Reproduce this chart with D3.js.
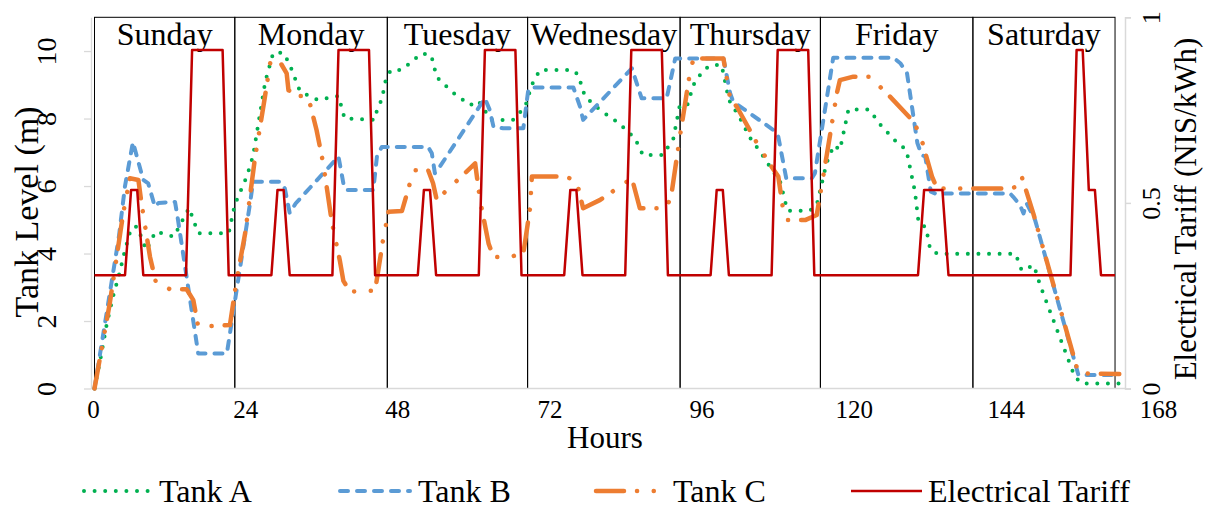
<!DOCTYPE html>
<html>
<head>
<meta charset="utf-8">
<script src="https://cdn.jsdelivr.net/npm/d3@7"></script>
<style>
  body { margin: 0; background: #fff; }
  svg, svg text { font-family: "Liberation Serif", "Times New Roman", serif; }
  svg text { fill: #000; }
</style>
</head>
<body>
<svg id="chart" width="1207" height="512"></svg>
<script>
// ---- data -------------------------------------------------------------
const dayNames = ["Sunday", "Monday", "Tuesday", "Wednesday", "Thursday", "Friday", "Saturday"];
const dayBounds = [0, 23, 48, 71, 96, 119, 144, 167.3];
const hourTicks = [0, 24, 48, 72, 96, 120, 144, 168];
const levelTicks = [0, 2, 4, 6, 8, 10];
const tariffTicks = [0, 0.5, 1];

// [hour, level in m]
const tankA = [
  [0,0],[1,0.9],[2,1.9],[3,2.7],[4,3.35],[5,4.1],[6,4.75],[7,4.8],[8.5,4.1],[10,4.65],[13,4.5],[15.5,5.35],[17,4.6],[22,4.6],
  [23,5.45],[25,6.3],[26,6.9],[27,8.0],[28,9.1],[29.3,9.95],[31,9.95],[32,9.6],[33.7,8.8],[36.6,8.55],[40,8.67],[41,8.0],[46,7.96],
  [46.3,8.25],[47.1,8.57],[47.8,9.19],[48.6,9.44],[50.4,9.44],[53.6,9.93],[55.2,9.88],[56.1,9.23],[58.6,8.79],[61.6,8.4],[62.9,8.53],[65,7.96],[68.6,7.96],
  [70.6,8.35],[71.7,9.0],[73,9.44],[78.4,9.44],[79.3,9.29],[80.4,8.65],[82.9,8.25],[86,7.86],[88.6,7.41],[89.9,6.92],[93.2,6.92],
  [94.9,7.41],[95.9,8.35],[97.1,8.35],[98.2,9.0],[99.8,9.44],[101.2,9.59],[102.8,9.59],[104,8.55],[105.7,8.05],[107.5,7.42],[109.1,7.02],[111.3,6.42],[112.4,6.13],[113.6,5.27],[117.3,5.27],[118.4,5.44],
  [120,6.67],[121.2,7.21],[122.2,7.07],[123.6,8.27],[127,8.27],[129,7.78],[131.6,7.28],[133.1,7.07],[134.5,5.83],[135.1,4.9],[136.3,4.78],[137,4.12],[138.2,3.99],
  [151,3.99],[152,3.5],[154,3.65],[155,3.07],[160.7,0.35],[161.8,0.15],[168,0.15]
];
const tankB = [
  [0,0],[4,4.5],[5,6.0],[6.3,7.3],[8,6.18],[8.8,6.08],[9.9,5.39],[10.5,5.5],[13.2,5.53],[13.6,5.1],[17,1.04],[21.7,1.04],
  [23.3,2.92],[25.5,5.49],[26,6.13],[30.4,6.13],[31.2,5.93],[32,5.2],[33,5.49],[40,6.87],[40.8,6.08],[41.3,5.88],[45.7,5.88],
  [46.3,6.87],[47.1,7.16],[54.7,7.16],[55.3,6.97],[55.8,6.38],[56.6,6.57],[64,8.6],[64.8,8.25],[65.4,7.76],[67,7.71],[70.3,7.71],
  [71.1,8.84],[71.4,8.92],[78.5,8.92],[79.6,8.35],[80.1,7.96],[88.1,9.49],[88.9,9.04],[89.7,8.6],[93.8,8.6],
  [95.2,9.78],[103.1,9.78],[104.2,8.75],[104.7,8.5],[111.3,7.66],[112.1,7.46],[113.4,6.23],[117.6,6.23],[118.1,6.38],
  [121.1,9.8],[131,9.8],[132.1,9.64],[133.2,9.34],[134.9,7.27],[135.6,6.92],[136.2,6.87],[137.1,5.83],[137.8,5.78],
  [150.1,5.78],[150.6,5.68],[151.7,5.44],[152.3,5.19],[152.8,5.49],[154.2,4.99],[161.3,0.4],[168,0.4]
];
const tankC = [
  [0,0],[2.5,2.52],[4.7,5.19],[5.8,6.23],[7.2,6.18],[7.7,5.49],[9.1,3.9],[10.1,3.12],[12.4,2.94],[15.1,2.94],[16.2,2.62],[17,1.83],[22.2,1.88],
  [23.3,3.21],[24.7,4.6],[26.3,6.82],[27.9,8.6],[28.8,9.64],[30.4,9.68],[31.5,9.34],[31.8,8.84],[33.4,8.67],[35,8.67],[36.4,7.66],[37.5,6.67],[38.9,4.94],[40.2,3.81],[40.8,3.19],[41.9,2.87],[46,2.9],
  [47.3,4.4],[48.2,5.24],[50.4,5.26],[51.7,6.08],[52.5,6.47],[54.7,6.47],[55.5,6.08],[56.1,5.59],[57.5,5.83],[62.4,6.67],[63.2,5.59],[64.6,4.3],[65.4,3.9],[68.1,3.9],
  [70.3,4.0],[71.4,5.34],[71.7,6.28],[76.9,6.28],[79,6.18],[80.1,5.34],[82.9,5.59],[88.1,6.23],[89.4,5.34],[93.8,5.34],
  [94.6,5.78],[96,7.51],[97.6,9.34],[98.2,9.78],[103.1,9.78],[104.2,8.6],[105.3,8.35],[108.6,7.27],[111,6.57],[112.1,6.28],[112.9,5.29],[113.5,4.99],[116.5,4.99],[118.4,5.14],
  [120,6.87],[121.7,8.75],[122.2,9.14],[124.4,9.24],[127.1,9.24],[130.4,8.65],[134,7.96],[135.3,7.56],[137.3,6.28],[138.1,5.93],
  [150.1,5.93],[151.6,6.0],[152,6.28],[153.9,5.19],[161.3,0.45],[168,0.43]
];
// [hour, NIS/kWh]
const tariff = [
  [0,0.305],[5,0.305],[6,0.535],[7,0.535],[8,0.305],[15,0.305],[16,0.912],[21,0.912],[22,0.305],
  [29,0.305],[30,0.535],[31,0.535],[32,0.305],[39,0.305],[40,0.912],[45,0.912],[46,0.305],
  [53,0.305],[54,0.535],[55,0.535],[56,0.305],[63,0.305],[64,0.912],[69,0.912],[70,0.305],
  [77,0.305],[78,0.535],[79,0.535],[80,0.305],[87,0.305],[88,0.912],[93,0.912],[94,0.305],
  [101,0.305],[102,0.535],[103,0.535],[104,0.305],[111,0.305],[112,0.912],[117,0.912],[118,0.305],
  [135,0.305],[136,0.535],[139,0.535],[140,0.305],
  [160,0.305],[161,0.912],[162,0.912],[163,0.535],[164,0.535],[165,0.305],[167.3,0.305]
];

// ---- styles -----------------------------------------------------------
const FONT = '"Liberation Serif", "Times New Roman", serif';
const series = [
  { name: "Tank A", data: tankA, color: "#00B050", width: 4,   dash: "0 10.6",                cap: "round", axis: "left" },
  { name: "Tank B", data: tankB, color: "#5B9BD5", width: 4,   dash: "8 9",                   cap: "round", axis: "left" },
  { name: "Tank C", data: tankC, color: "#ED7D31", width: 4.5, dash: "28 13 0.1 16.6 0.1 13", cap: "round", axis: "left" },
  { name: "Electrical Tariff", data: tariff, color: "#C00000", width: 2.5, dash: null, cap: "butt", axis: "right" }
];

// ---- scales -----------------------------------------------------------
const xData = d3.scaleLinear().domain([0, 168]).range([94.5, 1119.3]);
const xAxisScale = d3.scaleLinear().domain([0, 168]).range([93, 1158]);
const yLevel = d3.scaleLinear().domain([0, 11]).range([388.5, 17.3]);
const yTariff = d3.scaleLinear().domain([0, 1]).range([388.5, 17.3]);

const svg = d3.select("#chart").style("font-family", FONT);
const GRAY = "#D9D9D9";

// ---- day boxes --------------------------------------------------------
const days = d3.pairs(dayBounds).map((b, i) => ({ name: dayNames[i], from: b[0], to: b[1] }));
const boxes = svg.append("g");
boxes.selectAll("rect").data(days).join("rect")
  .attr("x", d => xData(d.from))
  .attr("y", yLevel(11))
  .attr("width", d => xData(d.to) - xData(d.from))
  .attr("height", yLevel(0) - yLevel(11))
  .attr("fill", "none").attr("stroke", "#000").attr("stroke-width", 1);
boxes.selectAll("text").data(days).join("text")
  .attr("x", d => (xData(d.from) + xData(d.to)) / 2)
  .attr("y", 45)
  .attr("text-anchor", "middle")
  .style("font-family", FONT)
  .attr("font-size", 32)
  .text(d => d.name);

// ---- axes -------------------------------------------------------------
svg.append("line").attr("x1", 91).attr("x2", 1125).attr("y1", 388.5).attr("y2", 388.5)
  .attr("stroke", GRAY).attr("stroke-width", 1.5);

const gLeft = svg.append("g").attr("transform", "translate(91,0)")
  .call(d3.axisLeft(yLevel).tickValues(levelTicks).tickSize(7).tickSizeOuter(0));
gLeft.select(".domain").attr("stroke", GRAY).attr("stroke-width", 1.3);
gLeft.selectAll(".tick line").attr("stroke", GRAY).attr("stroke-width", 1.3);
gLeft.attr("font-family", null).attr("font-size", null);
gLeft.selectAll(".tick text")
  .attr("x", 0).attr("y", -45).attr("dy", "0.35em")
  .attr("text-anchor", "middle").attr("transform", "rotate(-90)")
  .style("font-family", FONT)
  .attr("font-size", 28).attr("fill", "#000");

const gRight = svg.append("g").attr("transform", "translate(1125,0)")
  .call(d3.axisRight(yTariff).tickValues(tariffTicks).tickFormat(d => String(d)).tickSize(6).tickSizeOuter(6));
gRight.select(".domain").attr("stroke", GRAY).attr("stroke-width", 1.5);
gRight.selectAll(".tick line").attr("stroke", GRAY).attr("stroke-width", 1.5);
gRight.attr("font-family", null).attr("font-size", null);
gRight.selectAll(".tick text")
  .attr("x", 0).attr("y", 26).attr("dy", "0.35em")
  .attr("text-anchor", "middle").attr("transform", "rotate(-90)")
  .style("font-family", FONT)
  .attr("font-size", 26).attr("fill", "#000");

const gBottom = svg.append("g").attr("transform", "translate(0,388.5)")
  .call(d3.axisBottom(xAxisScale).tickValues(hourTicks).tickSize(0).tickPadding(12));
gBottom.select(".domain").remove();
gBottom.attr("font-family", null).attr("font-size", null);
gBottom.selectAll(".tick text").style("font-family", FONT).attr("font-size", 25).attr("fill", "#000");

// axis titles
svg.append("text").attr("x", 605).attr("y", 448).attr("text-anchor", "middle")
  .style("font-family", FONT).attr("font-size", 31).text("Hours");
svg.append("text").attr("transform", "translate(26,212) rotate(-90)")
  .attr("text-anchor", "middle").attr("dominant-baseline", "central")
  .style("font-family", FONT).attr("font-size", 34).text("Tank Level (m)");
svg.append("text").attr("transform", "translate(1185,209) rotate(-90)")
  .attr("text-anchor", "middle").attr("dominant-baseline", "central")
  .style("font-family", FONT).attr("font-size", 31).text("Electrical Tariff (NIS/kWh)");

// ---- series -----------------------------------------------------------
const lineLeft = d3.line().x(d => xData(d[0])).y(d => yLevel(d[1]));
const lineRight = d3.line().x(d => xData(d[0])).y(d => yTariff(d[1]));
svg.append("g").selectAll("path").data(series).join("path")
  .attr("d", s => (s.axis === "left" ? lineLeft : lineRight)(s.data))
  .attr("fill", "none")
  .attr("stroke", s => s.color)
  .attr("stroke-width", s => s.width)
  .attr("stroke-dasharray", s => s.dash)
  .attr("stroke-linecap", s => s.cap)
  .attr("stroke-linejoin", "round");

// ---- legend -----------------------------------------------------------
const legendPos = [
  { x1: 84, x2: 152, tx: 159 },
  { x1: 340, x2: 410, tx: 418 },
  { x1: 596, x2: 661, tx: 673 },
  { x1: 851, x2: 922, tx: 928 }
];
const legend = svg.append("g").selectAll("g").data(series).join("g");
legend.append("line")
  .attr("x1", (s, i) => legendPos[i].x1).attr("x2", (s, i) => legendPos[i].x2)
  .attr("y1", 491).attr("y2", 491)
  .attr("stroke", s => s.color).attr("stroke-width", s => s.width)
  .attr("stroke-dasharray", s => s.dash).attr("stroke-linecap", s => s.cap);
legend.append("text")
  .attr("x", (s, i) => legendPos[i].tx).attr("y", 491)
  .attr("dominant-baseline", "central")
  .style("font-family", FONT)
  .attr("font-size", 32)
  .text(s => s.name);
</script>
</body>
</html>
